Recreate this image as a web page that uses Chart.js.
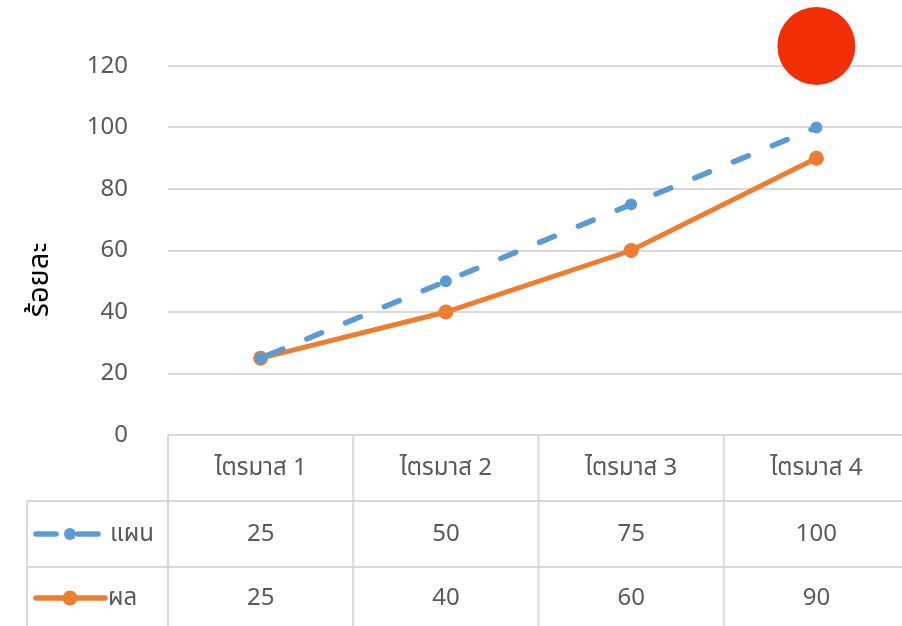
<!DOCTYPE html>
<html>
<head>
<meta charset="utf-8">
<script src="https://cdn.jsdelivr.net/npm/chart.js@4.4.1/dist/chart.umd.min.js"></script>
<style>
    html, body { margin: 0; padding: 0; background: #fff; overflow: hidden; }
    canvas { display: block; }
</style>
</head>
<body>
<canvas id="chart" width="948" height="626"></canvas>
<script>
const categories = ['ไตรมาส 1', 'ไตรมาส 2', 'ไตรมาส 3', 'ไตรมาส 4'];
const planValues = [25, 50, 75, 100];
const resultValues = [25, 40, 60, 90];
const highlightValues = [null, null, null, 126.5];
const seriesNames = ['แผน', 'ผล'];
const axisTitle = 'ร้อยละ';
const yMax = 120;
const yStep = 20;

const FONT = '"Noto Sans", "Noto Sans Thai", "Leelawadee UI", sans-serif';
const GRID = '#d9d9d9';
const TEXT = '#595959';
const BLUE = '#5b9bd5';
const ORANGE = '#ed7d31';

// draws the data table under the plot plus the rotated axis title
const tablePlugin = {
    id: 'dataTable',
    afterDraw(chart) {
        const ctx = chart.ctx;
        const area = chart.chartArea;
        const x = chart.scales.x;
        const colW = x.getPixelForValue(1) - x.getPixelForValue(0);
        const rowH = 66;
        const top = area.bottom;
        const legendLeft = 27;
        const right = chart.width;

        ctx.save();
        ctx.strokeStyle = GRID;
        ctx.lineWidth = 2;
        ctx.beginPath();
        // header row top line
        ctx.moveTo(area.left, top);
        ctx.lineTo(right, top);
        // series rows
        for (let r = 1; r <= 3; r++) {
            ctx.moveTo(legendLeft, top + rowH * r);
            ctx.lineTo(right, top + rowH * r);
        }
        ctx.moveTo(legendLeft, top + rowH);
        ctx.lineTo(legendLeft, top + rowH * 3);
        for (let i = 0; i <= categories.length; i++) {
            const cx = x.getPixelForValue(0) - colW / 2 + colW * i;
            ctx.moveTo(cx, top);
            ctx.lineTo(cx, top + rowH * 3);
        }
        ctx.stroke();

        ctx.fillStyle = TEXT;
        ctx.font = '24px ' + FONT;
        ctx.textAlign = 'center';
        ctx.textBaseline = 'middle';
        categories.forEach((c, i) => {
            const cx = x.getPixelForValue(i);
            ctx.fillText(c, cx, top + rowH / 2);
            ctx.fillText(String(planValues[i]), cx, top + rowH * 1.5);
            ctx.fillText(String(resultValues[i]), cx, top + rowH * 2.5 - 2);
        });

        // legend keys
        const y1 = top + rowH * 1.5;
        const y2 = top + rowH * 2.5 - 2;
        ctx.lineCap = 'round';
        ctx.lineWidth = 5.5;
        ctx.strokeStyle = BLUE;
        ctx.beginPath();
        ctx.moveTo(36, y1); ctx.lineTo(56, y1);
        ctx.moveTo(78, y1); ctx.lineTo(98, y1);
        ctx.stroke();
        ctx.fillStyle = BLUE;
        ctx.beginPath(); ctx.arc(70, y1, 6, 0, Math.PI * 2); ctx.fill();

        ctx.strokeStyle = ORANGE;
        ctx.beginPath();
        ctx.moveTo(36, y2); ctx.lineTo(105, y2);
        ctx.stroke();
        ctx.fillStyle = ORANGE;
        ctx.beginPath(); ctx.arc(70, y2, 7.5, 0, Math.PI * 2); ctx.fill();

        ctx.fillStyle = TEXT;
        ctx.textAlign = 'left';
        ctx.fillText(seriesNames[0], 110, y1);
        ctx.fillText(seriesNames[1], 108, y2);

        // axis title
        ctx.translate(40, 280);
        ctx.rotate(-Math.PI / 2);
        ctx.fillStyle = '#000';
        ctx.font = '29px ' + FONT;
        ctx.textAlign = 'center';
        ctx.fillText(axisTitle, 0, 0);
        ctx.restore();
    }
};

new Chart(document.getElementById('chart'), {
    type: 'line',
    data: {
        labels: categories,
        datasets: [
            {
                label: seriesNames[0],
                data: planValues,
                borderColor: BLUE,
                backgroundColor: BLUE,
                borderWidth: 5.5,
                borderDash: [16, 26],
                borderDashOffset: -8,
                borderCapStyle: 'round',
                pointRadius: 6,
                pointBorderWidth: 0,
                tension: 0
            },
            {
                label: seriesNames[1],
                data: resultValues,
                borderColor: ORANGE,
                backgroundColor: ORANGE,
                borderWidth: 5,
                borderCapStyle: 'round',
                pointRadius: 7.5,
                pointBorderWidth: 0,
                tension: 0
            },
            {
                label: 'highlight',
                data: highlightValues,
                showLine: false,
                backgroundColor: '#f22e07',
                borderWidth: 0,
                pointRadius: 39,
                clip: false
            }
        ]
    },
    options: {
        responsive: false,
        animation: false,
        events: [],
        layout: { padding: { top: 66, bottom: 191, left: 0, right: 0 } },
        plugins: {
            legend: { display: false },
            tooltip: { enabled: false }
        },
        scales: {
            x: {
                display: false,
                offset: true
            },
            y: {
                min: 0,
                max: yMax,
                afterFit(scale) { scale.width = 168; },
                border: { display: false },
                grid: { color: GRID, lineWidth: 2, drawTicks: false },
                ticks: {
                    stepSize: yStep,
                    padding: 40,
                    color: TEXT,
                    font: { family: FONT, size: 24 }
                }
            }
        }
    },
    plugins: [tablePlugin]
});
</script>
</body>
</html>
